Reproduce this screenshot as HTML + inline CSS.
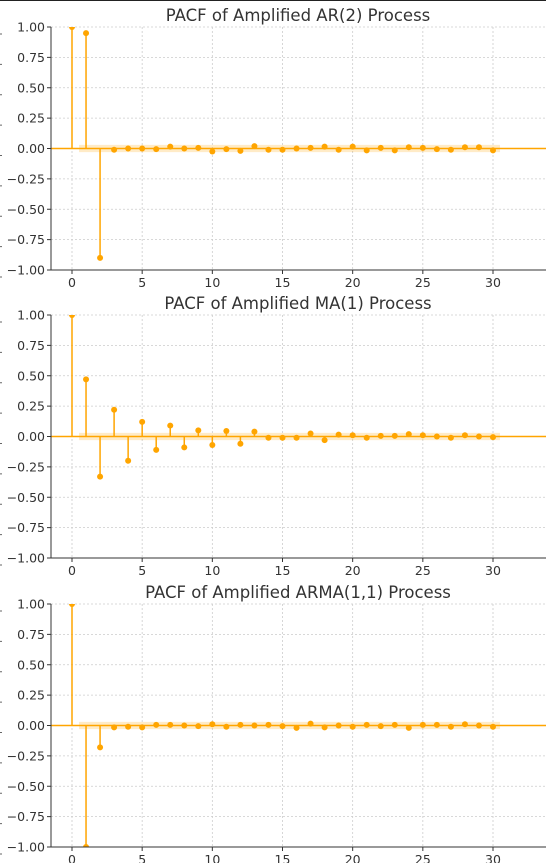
<!DOCTYPE html>
<html><head><meta charset="utf-8"><style>
body{margin:0;background:#fff;}
svg{display:block;font-family:"DejaVu Sans","Liberation Sans",sans-serif;}
</style></head><body>
<svg id="c" width="546" height="863"></svg>
<script>
const lags = Array.from({length:31},(_,i)=>i);
const yTicks = [1,0.75,0.5,0.25,0,-0.25,-0.5,-0.75,-1];
const yTickLabels = ["1.00","0.75","0.50","0.25","0.00","\u22120.25","\u22120.50","\u22120.75","\u22121.00"];
const xTicks = [0,5,10,15,20,25,30];
const titles = ["PACF of Amplified AR(2) Process","PACF of Amplified MA(1) Process","PACF of Amplified ARMA(1,1) Process"];
const ar2 = [1,0.95,-0.90,-0.01,0,0,-0.005,0.015,0,0.005,-0.025,-0.005,-0.02,0.02,-0.01,-0.01,0,0.005,0.015,-0.01,0.015,-0.015,0.005,-0.015,0.01,0.005,-0.005,-0.01,0.01,0.01,-0.015];
const ma1 = [1,0.47,-0.33,0.22,-0.20,0.12,-0.11,0.09,-0.09,0.05,-0.07,0.045,-0.06,0.04,-0.01,-0.01,-0.01,0.025,-0.03,0.015,0.01,-0.01,0.005,0.005,0.02,0.01,0,-0.01,0.01,0,-0.005];
const arma = [1,-1.0,-0.18,-0.015,-0.01,-0.015,0.005,0.005,0,-0.005,0.01,-0.01,0.005,0,0.005,-0.005,-0.02,0.015,-0.015,0,-0.01,0.005,-0.005,0.005,-0.02,0.005,0.005,-0.01,0.01,0,-0.01];
const confBand = 0.03;
const series = [ar2, ma1, arma];
const tops = [27, 315, 604];
const NS="http://www.w3.org/2000/svg";
const svg=document.getElementById('c');
function mk(tag,attrs,parent){const e=document.createElementNS(NS,tag);for(const k in attrs)e.setAttribute(k,attrs[k]);(parent||svg).appendChild(e);return e;}
const X0=72, X30=493, LEFT=51, RIGHT=546, H=243;
const xs = l => X0 + (X30-X0)*l/30;
mk('line',{x1:0,y1:0.5,x2:546,y2:0.5,stroke:'#222','stroke-width':1});
series.forEach((vals,p)=>{
  const top=tops[p], bot=top+H;
  const ys = v => top + (1-v)/2*H;
  const g=mk('g',{});
  
  
  xTicks.forEach(t=>{const l=mk('line',{x1:xs(t),x2:xs(t),y1:top,y2:bot,stroke:'#ccc','stroke-dasharray':'2,2','stroke-width':0.8},g);
    });
  yTicks.forEach(t=>{const l=mk('line',{x1:LEFT,x2:RIGHT,y1:ys(t),y2:ys(t),stroke:'#ccc','stroke-dasharray':'2,2','stroke-width':0.8},g);
    });
  const band=mk('rect',{x:xs(0.5),y:ys(confBand),width:xs(30.5)-xs(0.5),height:ys(-confBand)-ys(confBand),fill:'#FFA500','fill-opacity':0.22},g);
  
  const z=mk('line',{x1:LEFT,x2:RIGHT,y1:ys(0),y2:ys(0),stroke:'#FFA500','stroke-width':1.5},g);
  
  lags.forEach((l,i)=>{
    const v=vals[i];
    const s=mk('line',{x1:xs(l),x2:xs(l),y1:ys(0),y2:ys(v),stroke:'#FFA500','stroke-width':1.5},g);
    
  });
  const clip=mk('clipPath',{id:'clip'+p},g);
  mk('rect',{x:LEFT,y:top,width:RIGHT-LEFT,height:H},clip);
  lags.forEach((l,i)=>{
    const m=mk('circle',{cx:xs(l),cy:ys(vals[i]),r:3,fill:'#FFA500','clip-path':'url(#clip'+p+')'},g);
    
  });
  const ax=mk('path',{d:`M${LEFT} ${top} V${bot} H${RIGHT}`,stroke:'#333',fill:'none','stroke-width':1},g);
  
  yTicks.forEach((t,i)=>{
    mk('line',{x1:LEFT-4,x2:LEFT,y1:ys(t),y2:ys(t),stroke:'#333'},g);
    const tx=mk('text',{x:LEFT-6,y:ys(t)+4.5,'text-anchor':'end','font-size':12.5,fill:'#333'},g);
    tx.textContent=yTickLabels[i];
    
    mk('line',{x1:0,x2:2,y1:ys(t)+7,y2:ys(t)+7,stroke:'#666'},g);
  });
  xTicks.forEach(t=>{
    mk('line',{x1:xs(t),x2:xs(t),y1:bot,y2:bot+4,stroke:'#333'},g);
    const tx=mk('text',{x:xs(t),y:bot+17,'text-anchor':'middle','font-size':12.5,fill:'#333'},g);
    tx.textContent=t;
    
  });
  const ti=mk('text',{x:298,y:top-6,'text-anchor':'middle','font-size':16.5,fill:'#333'},g);
  ti.textContent=titles[p];
  
});
</script>
</body></html>
